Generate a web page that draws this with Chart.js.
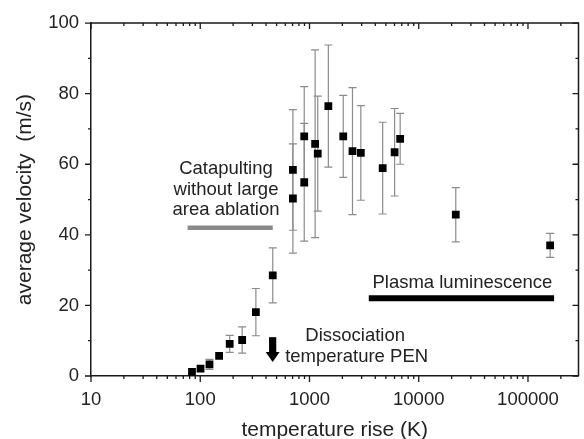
<!DOCTYPE html>
<html lang="en">
<head>
    <meta charset="UTF-8">
    <title>Average velocity vs temperature rise</title>
    <script src="https://cdn.jsdelivr.net/npm/chart.js"></script>
    <style>
        body { margin: 0; background: #ffffff; }
        #wrap { width: 584px; height: 439px; }
    </style>
</head>
<body>
    <div id="wrap"><canvas id="velocityChart"></canvas></div>

    <script>
        // measured points (temperature rise in K, velocity in m/s, +/- error)
        const tempRise = [84, 100.6, 121.5, 148.8, 186, 242, 323, 461, 705, 705, 895, 895, 1126, 1190, 1488, 2037, 2475, 2951, 4677, 6012, 6761, 21830, 159500];
        const velocity = [1.2, 2.1, 3.3, 5.7, 9.1, 10.2, 18.1, 28.5, 50.3, 58.4, 67.9, 54.9, 65.8, 63.0, 76.5, 67.9, 63.7, 63.2, 58.9, 63.4, 67.2, 45.7, 37.0];
        const velocityErr = [0, 0, 1.4, 0, 2.4, 3.7, 6.7, 7.8, 15.5, 17.1, 14.1, 16.7, 26.6, 16.3, 17.3, 11.6, 18.0, 13.4, 13.0, 12.4, 7.2, 7.7, 3.4];

        // regime bars
        const catapultRange = [76.6, 461];
        const catapultLevel = 42;
        const plasmaRange = [3489, 173400];
        const plasmaLevel = 22;

        // dissociation arrow (x, top, tip)
        const arrowX = 460;
        const arrowSpan = [11, 4];

        // axes
        const xMajorTicks = [10, 100, 1000, 10000, 100000];
        const yMajorTicks = [0, 20, 40, 60, 80, 100];
        const yMinorTicks = [10, 30, 50, 70, 90];

        const FONT = '"Liberation Sans", Arial, sans-serif';
        const INK = '#1a1a1a';

        // text labels, anchored in data units (x, baseline y)
        const notes = [
            { text: 'Catapulting', x: 172, y: 57.2 },
            { text: 'without large', x: 172, y: 51.3 },
            { text: 'area ablation', x: 172, y: 45.5 },
            { text: 'Plasma luminescence', x: 25100, y: 24.9 },
            { text: 'Dissociation', x: 2620, y: 9.85 },
            { text: 'temperature PEN', x: 2700, y: 4.0 }
        ];

        const points = tempRise.map((t, i) => ({ x: t, y: velocity[i] }));

        // ticks on all four sides, frame, error bars, arrow and notes
        const decorPlugin = {
            id: 'decor',
            beforeDatasetsDraw(chart) {
                const { ctx, scales: { x, y } } = chart;
                ctx.save();
                ctx.strokeStyle = '#8c8c8c';
                ctx.lineWidth = 1.2;
                points.forEach((p, i) => {
                    const e = velocityErr[i];
                    if (!e) return;
                    const px = x.getPixelForValue(p.x);
                    const top = y.getPixelForValue(p.y + e);
                    const bot = y.getPixelForValue(p.y - e);
                    ctx.beginPath();
                    ctx.moveTo(px, top); ctx.lineTo(px, bot);
                    ctx.moveTo(px - 4, top); ctx.lineTo(px + 4, top);
                    ctx.moveTo(px - 4, bot); ctx.lineTo(px + 4, bot);
                    ctx.stroke();
                });
                ctx.restore();
            },
            afterDraw(chart) {
                const { ctx, chartArea: a, scales: { x, y } } = chart;
                ctx.save();
                ctx.strokeStyle = INK;
                ctx.lineWidth = 1.5;

                // frame top and right
                ctx.beginPath();
                ctx.moveTo(a.left, a.top); ctx.lineTo(a.right, a.top); ctx.lineTo(a.right, a.bottom);
                ctx.stroke();

                ctx.lineWidth = 1.3;
                ctx.beginPath();
                const xTick = (v, len) => {
                    const px = x.getPixelForValue(v);
                    ctx.moveTo(px, a.bottom); ctx.lineTo(px, a.bottom + len);
                    ctx.moveTo(px, a.top); ctx.lineTo(px, a.top + len);
                };
                xMajorTicks.forEach(d => {
                    xTick(d, 6);
                    for (let m = 2; m <= 9; m++) {
                        if (d * m <= x.max) xTick(d * m, 3);
                    }
                });
                const yTick = (v, len) => {
                    const py = y.getPixelForValue(v);
                    ctx.moveTo(a.left, py); ctx.lineTo(a.left - len, py);
                    ctx.moveTo(a.right, py); ctx.lineTo(a.right - len, py);
                };
                yMajorTicks.forEach(v => yTick(v, 6));
                yMinorTicks.forEach(v => yTick(v, 3));
                ctx.stroke();

                // arrow
                const ax = x.getPixelForValue(arrowX);
                const aTop = y.getPixelForValue(arrowSpan[0]);
                const aTip = y.getPixelForValue(arrowSpan[1]);
                const headLen = 10;
                ctx.fillStyle = '#000';
                ctx.fillRect(ax - 3.6, aTop, 7.2, aTip - aTop - headLen + 1);
                ctx.beginPath();
                ctx.moveTo(ax - 7, aTip - headLen);
                ctx.lineTo(ax + 7, aTip - headLen);
                ctx.lineTo(ax, aTip);
                ctx.closePath();
                ctx.fill();

                // notes
                ctx.fillStyle = '#222';
                ctx.font = '18.5px ' + FONT;
                ctx.textAlign = 'center';
                ctx.textBaseline = 'alphabetic';
                notes.forEach(n => {
                    ctx.fillText(n.text, x.getPixelForValue(n.x), y.getPixelForValue(n.y));
                });
                ctx.restore();
            }
        };

        const ctx = document.getElementById('velocityChart').getContext('2d');
        new Chart(ctx, {
            type: 'scatter',
            data: {
                datasets: [
                    {
                        data: catapultRange.map(v => ({ x: v, y: catapultLevel })),
                        showLine: true,
                        borderColor: '#8a8a8a',
                        borderWidth: 4.5,
                        borderCapStyle: 'butt',
                        pointRadius: 0
                    },
                    {
                        data: plasmaRange.map(v => ({ x: v, y: plasmaLevel })),
                        showLine: true,
                        borderColor: '#000000',
                        borderWidth: 6,
                        borderCapStyle: 'butt',
                        pointRadius: 0
                    },
                    {
                        data: points,
                        pointStyle: 'rect',
                        pointRadius: 5.5,
                        backgroundColor: '#000000',
                        borderColor: '#000000',
                        borderWidth: 0
                    }
                ]
            },
            options: {
                responsive: true,
                maintainAspectRatio: false,
                animation: false,
                layout: { padding: { top: 17.5, right: 2, left: 0, bottom: 0 } },
                plugins: {
                    legend: { display: false },
                    tooltip: { enabled: false }
                },
                scales: {
                    x: {
                        type: 'logarithmic',
                        min: 10,
                        max: 290000,
                        afterBuildTicks: scale => {
                            scale.ticks = xMajorTicks.map(v => ({ value: v }));
                        },
                        afterFit: scale => { scale.height = 63; },
                        grid: { display: false, drawTicks: false },
                        border: { display: true, color: INK, width: 1.5 },
                        ticks: {
                            color: '#222',
                            padding: 13,
                            font: { family: FONT, size: 18.5 },
                            maxRotation: 0,
                            callback: v => String(v)
                        },
                        title: {
                            display: true,
                            text: 'temperature rise (K)',
                            color: '#222',
                            font: { family: FONT, size: 21 },
                            padding: { top: 0, bottom: -4 }
                        }
                    },
                    y: {
                        min: 0,
                        max: 100,
                        afterFit: scale => { scale.width = 91; },
                        grid: { display: false, drawTicks: false },
                        border: { display: true, color: INK, width: 1.5 },
                        ticks: {
                            stepSize: 20,
                            color: '#222',
                            padding: 12,
                            font: { family: FONT, size: 18.5 }
                        },
                        title: {
                            display: true,
                            text: 'average velocity  (m/s)',
                            color: '#222',
                            font: { family: FONT, size: 21 },
                            padding: { top: 13, bottom: 0 }
                        }
                    }
                }
            },
            plugins: [decorPlugin]
        });
    </script>
</body>
</html>
